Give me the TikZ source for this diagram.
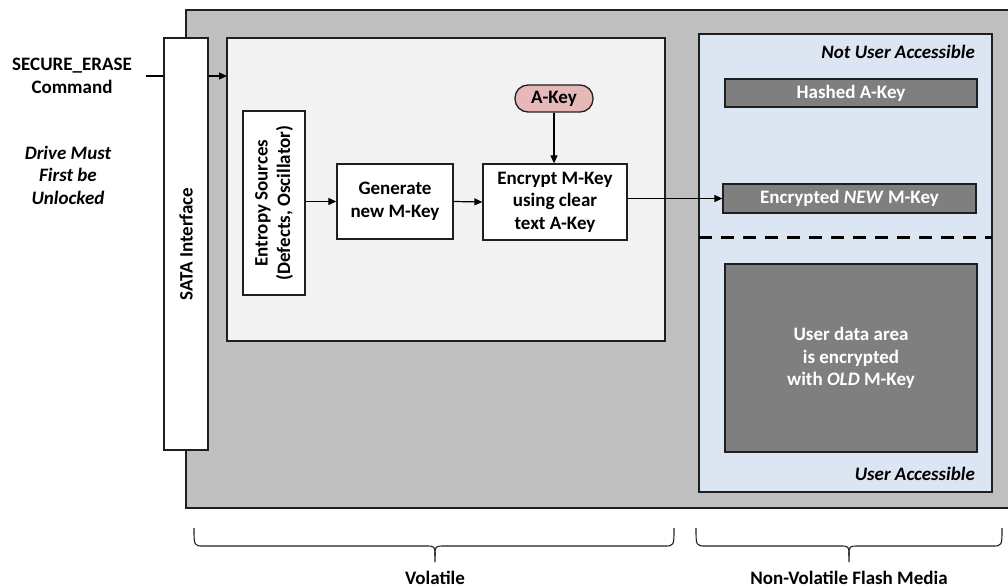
\documentclass[tikz,border=0pt]{standalone}
\usepackage{fontspec}
\setmainfont{Carlito}
\usetikzlibrary{arrows.meta}
\definecolor{outergray}{HTML}{BFBFBF}
\definecolor{lightbg}{HTML}{F2F2F2}
\definecolor{bluebg}{HTML}{DCE6F2}
\definecolor{darkbox}{HTML}{7F7F7F}
\definecolor{akeyfill}{HTML}{E6B9B8}
\definecolor{edge}{HTML}{1F1F1F}
\tikzset{
  txt/.style={font=\fontsize{19}{22.5}\selectfont\bfseries, align=center, inner sep=0pt},
  itxt/.style={txt, font=\fontsize{19}{22.5}\selectfont\bfseries\itshape},
  box/.style={draw=edge, line width=1.3pt, fill=white, inner sep=0pt, txt},
  darkbx/.style={draw=edge, line width=1.3pt, fill=darkbox, text=white, inner sep=0pt, txt},
  conn/.style={line width=1.2pt, -{Triangle[length=8pt,width=7pt]}},
  bracepath/.style={line width=1.1pt, draw=edge},
}
\begin{document}
\begin{tikzpicture}[x=1pt,y=-1pt]
\useasboundingbox (0,0) rectangle (1008,588);
% outer gray region
\draw[fill=outergray, draw=edge, line width=1.6pt] (186,10) rectangle (1015,508);
% volatile area
\draw[draw=edge, line width=1.3pt, fill=lightbg] (227,38) rectangle (665,341);
% non-volatile area
\draw[draw=edge, line width=1.3pt, fill=bluebg] (699,34) rectangle (992,492);
\coordinate (nvW) at (699,237);
\coordinate (nvE) at (992,237);
\coordinate (volW) at (227,76);
% command input
\node[txt] (cmd) at (72,76) {SECURE\_ERASE\\Command};
\node[itxt] (unl) at (68,175) {Drive Must\\First be\\Unlocked};
\coordinate (cmdin) at (146,76);
\draw[conn] (cmdin) -- (volW);
% SATA interface
\node[box, minimum width=44pt, minimum height=412pt] (sata) at (186,244) {};
\node[txt, rotate=90] (satat) at (sata.center) {SATA Interface};
% entropy
\node[box, minimum width=62pt, minimum height=184pt] (ent) at (274,203) {};
\node[txt, rotate=90] (entt) at (ent.center) {Entropy Sources\\(Defects, Oscillator)};
% generate
\node[box, minimum width=116pt, minimum height=75pt] (gen) at (395,201.5) {Generate\\new M-Key};
% encrypt
\node[box, minimum width=144pt, minimum height=76pt] (enc) at (555,202) {Encrypt M-Key\\using clear\\text A-Key};
% A-Key
\node[box, fill=akeyfill, rounded corners=13pt, minimum width=78pt, minimum height=27pt] (akey) at (554,98.5) {A-Key};
% non volatile contents
\node[itxt, anchor=east] (nua) at (975,52) {Not User Accessible};
\node[darkbx, minimum width=252pt, minimum height=28pt] (hash) at (851,93) {Hashed A-Key};
\node[darkbx, minimum width=253pt, minimum height=29pt] (newk) at (849.5,198.5) {Encrypted \textit{NEW} M-Key};
\node[darkbx, minimum width=252pt, minimum height=188pt] (udata) at (851,358) {User data area\\is encrypted\\with \textit{OLD} M-Key};
\node[itxt, anchor=east] (ua) at (975,474) {User Accessible};
\draw[line width=3pt, dash pattern=on 13pt off 9pt] (nvW) -- (nvE);
% connectors
\draw[conn] (ent.east |- gen) -- (gen.west);
\draw[conn] (gen.east) -- (enc.west);
\draw[conn] (akey.south) -- (enc.north -| akey.south);
\draw[conn] (enc.east |- newk) -- (newk.west);
% braces
\draw[bracepath] (194,528) .. controls (194,546) .. (204,546) -- (425,546) .. controls (435,546) .. (435,556) -- (435,562);
\draw[bracepath] (674,528) .. controls (674,546) .. (664,546) -- (445,546) .. controls (435,546) .. (435,556);
\draw[bracepath] (696,528) .. controls (696,546) .. (706,546) -- (839,546) .. controls (849,546) .. (849,556) -- (849,562);
\draw[bracepath] (1002,528) .. controls (1002,546) .. (992,546) -- (859,546) .. controls (849,546) .. (849,556);
\node[txt] (volt) at (435,578) {Volatile};
\node[txt] (nvt) at (849,578) {Non-Volatile Flash Media};
\end{tikzpicture}
\end{document}
